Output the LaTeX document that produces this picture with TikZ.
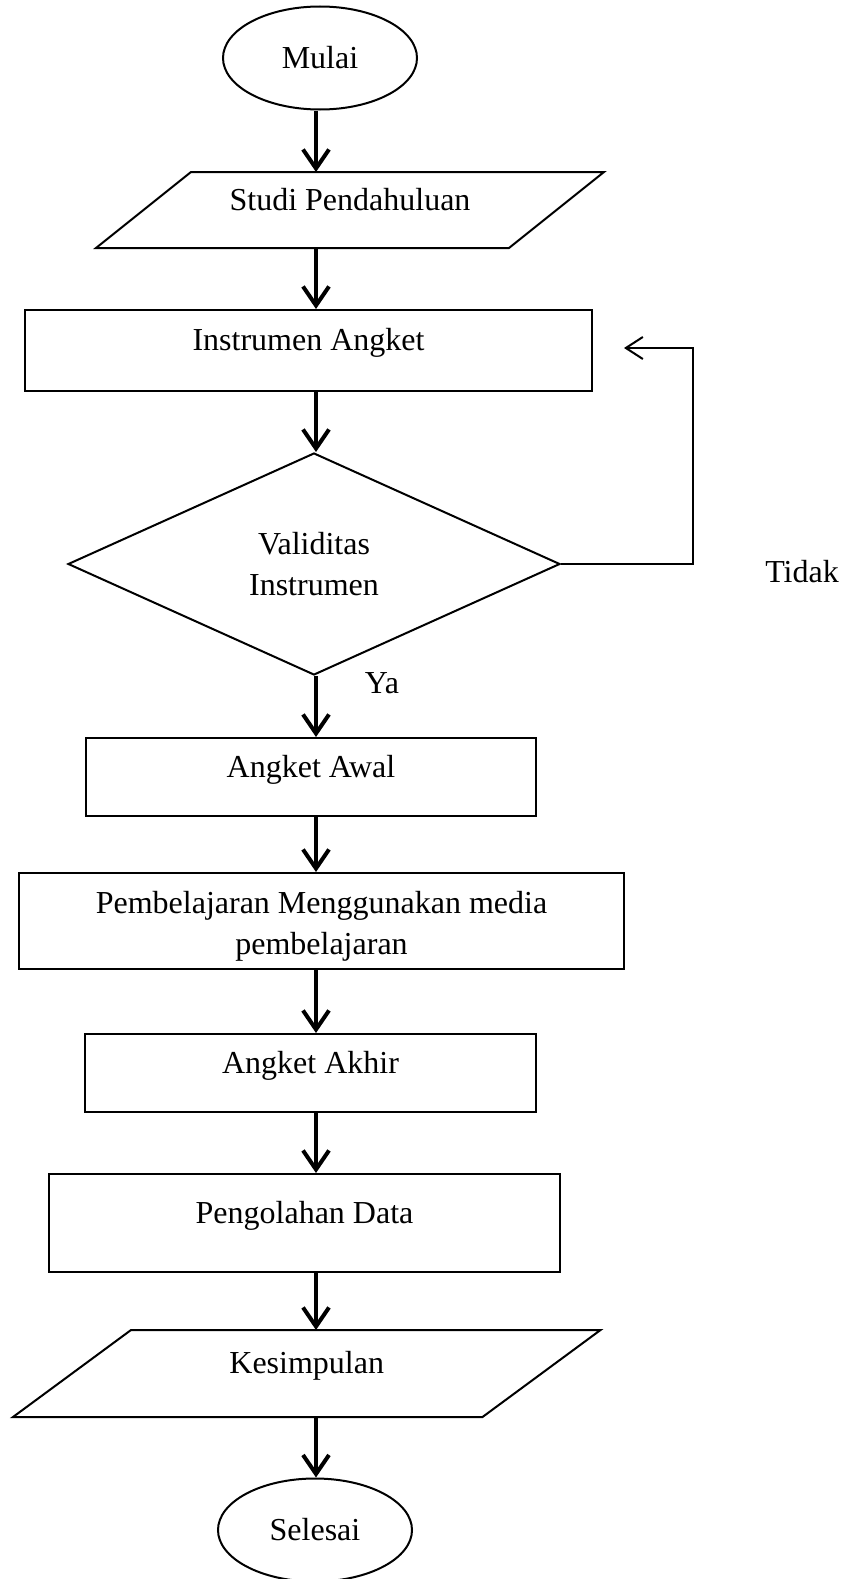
\documentclass[tikz,border=0pt]{standalone}
\usepackage{fontspec}
\setmainfont{Liberation Serif}
\usetikzlibrary{arrows.meta,shapes.geometric}

% parallelogram drawn round a plain node: node name, slant offset
\newcommand{\slantframe}[2]{%
  \draw[line width=2pt,line join=miter] ([xshift=#2]#1.north west) -- ([xshift=#2]#1.north east)
    -- ([xshift=-#2]#1.south east) -- ([xshift=-#2]#1.south west) -- cycle;}

\begin{document}
\begin{tikzpicture}[x=1pt,y=-1pt,
    font=\fontsize{32}{41}\selectfont,
    box/.style={draw,line width=2pt,rectangle,inner sep=0pt,text height=22pt,text depth=22pt},
    slant/.style={rectangle,inner sep=0pt,outer sep=0pt,text height=22pt,text depth=22pt},
    term/.style={draw,line width=2pt,ellipse,inner sep=0pt,minimum width=194pt,minimum height=103pt},
    flow/.style={line width=4pt,-{Straight Barb[length=19pt,width=26pt]}},
    back/.style={line width=2pt,-{Straight Barb[length=17pt,width=22pt]}}]
            \useasboundingbox (0,0) rectangle (847,1579);
            \coordinate (spine) at (316,0);

            % Start
            \node[term] (mulai) at (320,58) {Mulai};

            % Input
            \node[slant,minimum width=413pt,minimum height=76pt] (studi) at (350,210) {Studi Pendahuluan};
            \slantframe{studi}{47.5pt}
            \draw[flow] (spine |- mulai.south) -- (spine |- studi.north);

            % Instrument
            \node[box,minimum width=567pt,minimum height=81pt] (instrumen) at (308.5,350.5) {Instrumen Angket};
            \draw[flow] (spine |- studi.south) -- (spine |- instrumen.north);

            % Decision
            \node[draw,line width=2pt,diamond,aspect=2.2,inner sep=0pt,minimum width=492pt,minimum height=222pt,align=center] (validitas) at (314,564) {Validitas\\Instrumen};
            \draw[flow] (spine |- instrumen.south) -- (spine |- validitas.north);

            % Back to instrument
            \coordinate (retur) at (624,348);
            \draw[back] (validitas.east) -- ++(132,0) |- (retur);
            \node[anchor=base] (tidak) at (802,582) {Tidak};
            \node[anchor=base] (ya) at (382,693) {Ya};

            % Process steps
            \node[box,minimum width=450pt,minimum height=78pt] (awal) at (311,777) {Angket Awal};
            \draw[flow] (spine |- validitas.south) -- (spine |- awal.north);

            \node[box,minimum width=605pt,minimum height=96pt,align=center,text height=73pt,text depth=7pt] (belajar) at (321.5,921) {Pembelajaran Menggunakan media\\pembelajaran};
            \draw[flow] (spine |- awal.south) -- (spine |- belajar.north);

            \node[box,minimum width=451pt,minimum height=78pt] (akhir) at (310.5,1073) {Angket Akhir};
            \draw[flow] (spine |- belajar.south) -- (spine |- akhir.north);

            \node[box,minimum width=511pt,minimum height=98pt] (olah) at (304.5,1223) {Pengolahan Data};
            \draw[flow] (spine |- akhir.south) -- (spine |- olah.north);

            % Output
            \node[slant,minimum width=469.5pt,minimum height=87pt] (simpul) at (306.75,1373.5) {Kesimpulan};
            \slantframe{simpul}{59pt}
            \draw[flow] (spine |- olah.south) -- (spine |- simpul.north);

            % End
            \node[term] (selesai) at (315,1530) {Selesai};
            \draw[flow] (spine |- simpul.south) -- (spine |- selesai.north);
        \end{tikzpicture}
\end{document}
